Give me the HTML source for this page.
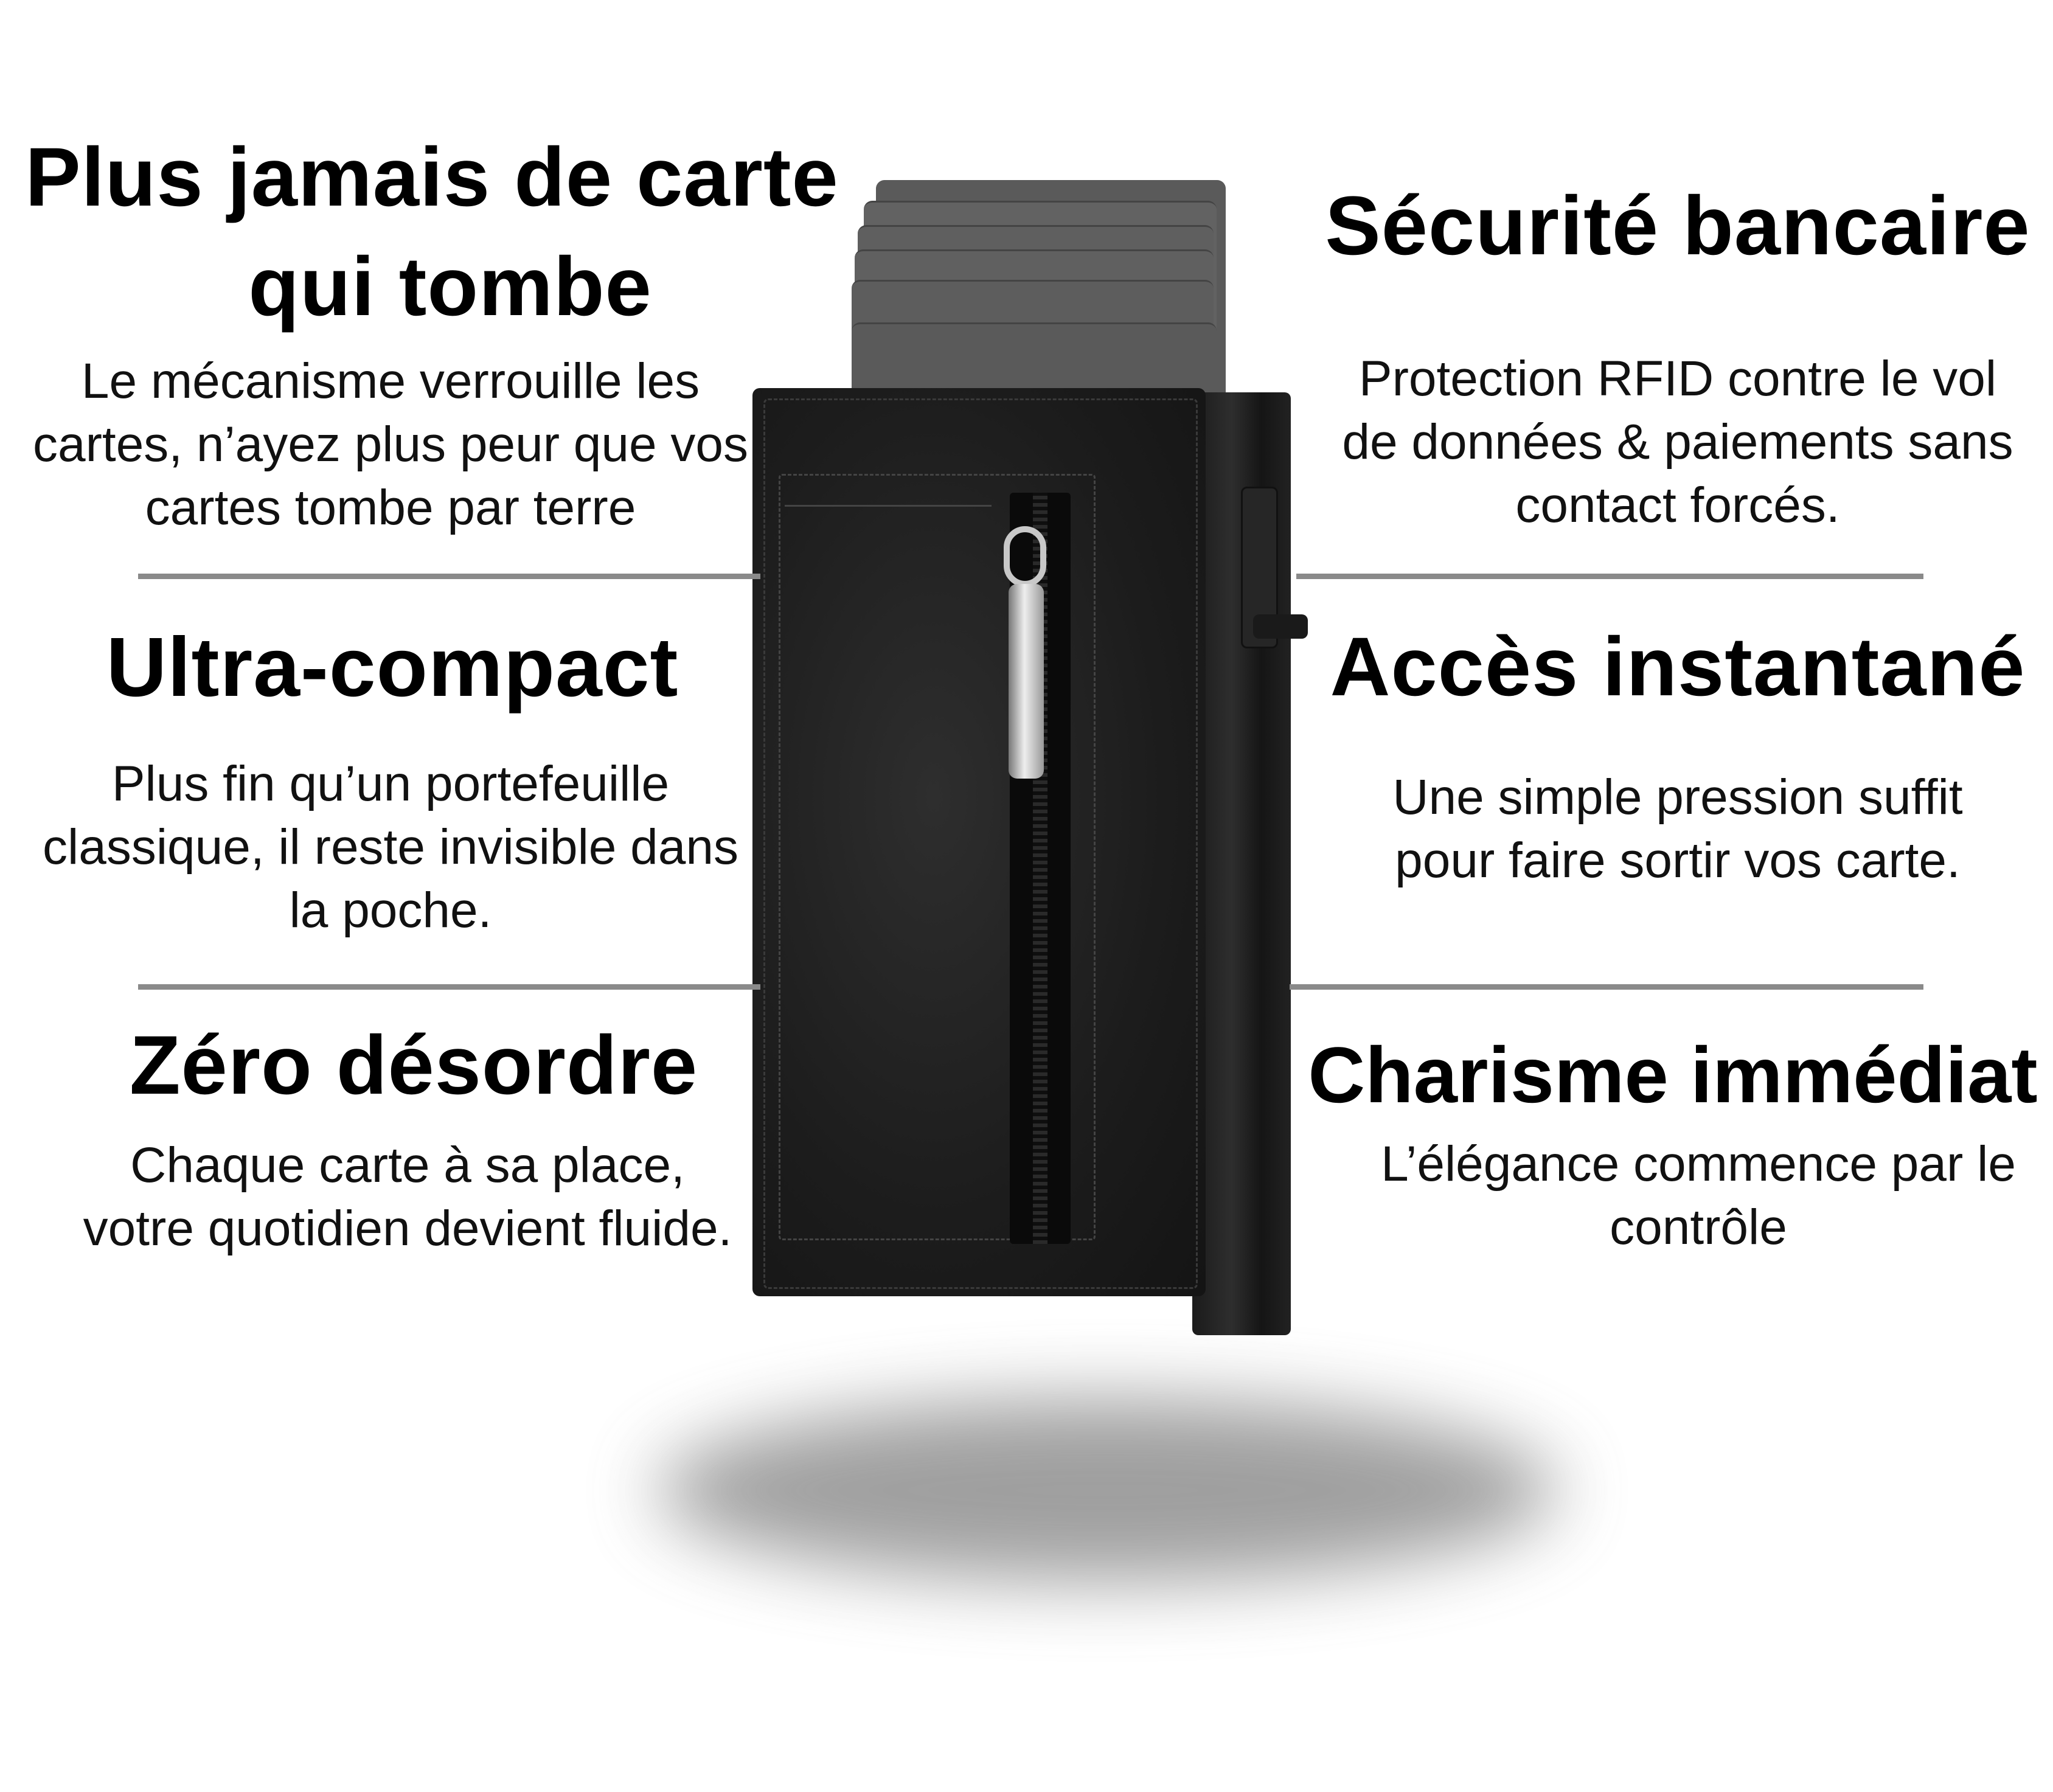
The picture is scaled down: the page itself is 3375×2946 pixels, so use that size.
<!DOCTYPE html>
<html><head><meta charset="utf-8"><style>
html,body{margin:0;padding:0;background:#fff;}
#c{position:relative;width:3375px;height:2946px;overflow:hidden;background:#fff;font-family:"Liberation Sans",sans-serif;color:#000;}
.t{position:absolute;text-align:center;white-space:nowrap;}
.h{font-weight:bold;font-size:137px;line-height:150px;letter-spacing:1px;}
.b{font-size:82px;line-height:104px;color:#111;}
.dv{position:absolute;height:9px;background:#8a8a8a;}
.a{position:absolute;}
</style></head><body><div id="c">

<!-- shadow -->
<div class="a" style="left:1080px;top:2300px;width:1480px;height:300px;border-radius:50%;background:#777;filter:blur(60px);opacity:.7"></div>

<!-- cards -->
<div class="a" style="left:1440px;top:296px;width:575px;height:400px;background:#5a5a5a;border-radius:14px"></div>
<div class="a" style="left:1420px;top:330px;width:580px;height:400px;background:#626262;border-radius:14px;border-top:3px solid #444"></div>
<div class="a" style="left:1410px;top:370px;width:585px;height:400px;background:#5f5f5f;border-radius:14px;border-top:3px solid #444"></div>
<div class="a" style="left:1405px;top:410px;width:590px;height:400px;background:#606060;border-radius:14px;border-top:3px solid #444"></div>
<div class="a" style="left:1400px;top:460px;width:595px;height:400px;background:#5d5d5d;border-radius:14px;border-top:3px solid #444"></div>
<div class="a" style="left:1400px;top:530px;width:600px;height:300px;background:#5a5a5a;border-radius:14px;border-top:3px solid #444"></div>

<!-- metal side -->
<div class="a" style="left:1960px;top:645px;width:162px;height:1550px;background:linear-gradient(90deg,#1b1b1b,#2e2e2e 40%,#151515 70%,#222);border-radius:10px"></div>
<div class="a" style="left:2040px;top:800px;width:55px;height:260px;background:#262626;border:3px solid #111;border-radius:10px"></div>
<div class="a" style="left:2060px;top:1010px;width:90px;height:40px;background:#1a1a1a;border-radius:10px"></div>

<!-- leather body -->
<div class="a" style="left:1237px;top:638px;width:745px;height:1493px;background:radial-gradient(ellipse at 40% 45%,#2e2e2e,#1c1c1c 60%,#141414);border-radius:12px"></div>
<div class="a" style="left:1255px;top:655px;width:708px;height:1458px;border:3px dashed #3a3a3a;border-radius:8px"></div>
<!-- pocket -->
<div class="a" style="left:1280px;top:779px;width:515px;height:1254px;border:3px dashed #444;border-radius:6px"></div>
<div class="a" style="left:1290px;top:830px;width:340px;height:3px;background:#444"></div>
<!-- zipper -->
<div class="a" style="left:1660px;top:810px;width:100px;height:1235px;background:#0a0a0a;border-radius:6px"></div>
<div class="a" style="left:1698px;top:810px;width:24px;height:1235px;background:repeating-linear-gradient(0deg,#2a2a2a 0 6px,#0e0e0e 6px 12px)"></div>
<div class="a" style="left:1650px;top:865px;width:70px;height:100px;border:10px solid #c8c8c8;border-radius:40px;box-sizing:border-box"></div>
<div class="a" style="left:1658px;top:960px;width:58px;height:320px;background:linear-gradient(90deg,#777,#eee 45%,#999);border-radius:14px"></div>

<!-- dividers -->
<div class="dv" style="left:227px;top:943px;width:1023px"></div>
<div class="dv" style="left:227px;top:1618px;width:1023px"></div>
<div class="dv" style="left:2131px;top:943px;width:1031px"></div>
<div class="dv" style="left:2120px;top:1618px;width:1042px"></div>

<!-- left column -->
<div class="t h" style="left:0;width:1420px;top:217px">Plus jamais de carte</div>
<div class="t h" style="left:0;width:1480px;top:397px">qui tombe</div>
<div class="t b" style="left:0;width:1284px;top:575px">Le mécanisme verrouille les<br>cartes, n’ayez plus peur que vos<br>cartes tombe par terre</div>

<div class="t h" style="left:0;width:1290px;top:1022px;font-size:138px">Ultra-compact</div>
<div class="t b" style="left:0;width:1284px;top:1237px">Plus fin qu’un portefeuille<br>classique, il reste invisible dans<br>la poche.</div>

<div class="t h" style="left:0;width:1360px;top:1677px">Zéro désordre</div>
<div class="t b" style="left:0;width:1340px;top:1864px">Chaque carte à sa place,<br>votre quotidien devient fluide.</div>

<!-- right column -->
<div class="t h" style="left:2116px;width:1284px;top:297px">Sécurité bancaire</div>
<div class="t b" style="left:2116px;width:1284px;top:571px">Protection RFID contre le vol<br>de données &amp; paiements sans<br>contact forcés.</div>

<div class="t h" style="left:2116px;width:1284px;top:1022px">Accès instantané</div>
<div class="t b" style="left:2116px;width:1284px;top:1259px">Une simple pression suffit<br>pour faire sortir vos carte.</div>

<div class="t h" style="left:2130px;width:1240px;top:1692px;font-size:130px;letter-spacing:0">Charisme immédiat</div>
<div class="t b" style="left:2150px;width:1284px;top:1862px">L’élégance commence par le<br>contrôle</div>

</div></body></html>
